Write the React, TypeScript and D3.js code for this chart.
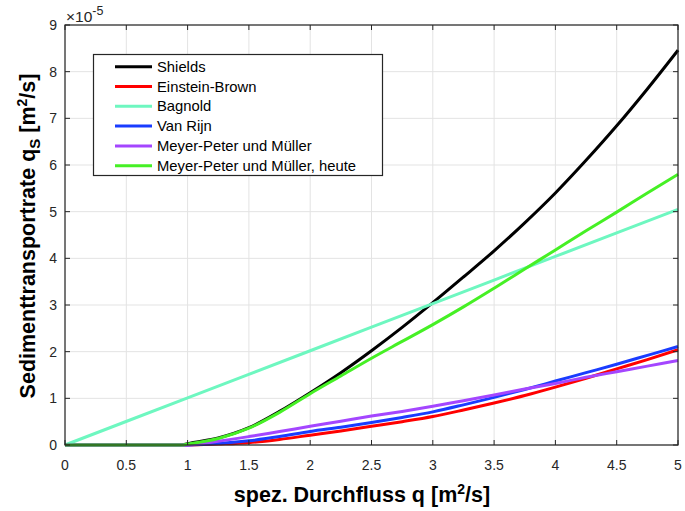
import React from "react";
import * as d3 from "d3";

const qValues = [0, 0.25, 0.5, 0.75, 0.95, 1.0, 1.25, 1.5, 1.75, 2, 2.25, 2.5, 2.75, 3, 3.25, 3.5, 3.75, 4, 4.25, 4.5, 4.75, 5];
const shields = [0, 0, 0, 0, 0, 0.03, 0.15, 0.37, 0.72, 1.12, 1.55, 2.02, 2.52, 3.05, 3.6, 4.16, 4.76, 5.4, 6.1, 6.84, 7.63, 8.46];
const einsteinBrown = [0, 0, 0, 0, 0, 0, 0.02, 0.05, 0.12, 0.21, 0.3, 0.4, 0.5, 0.61, 0.75, 0.9, 1.06, 1.24, 1.43, 1.63, 1.83, 2.04];
const bagnoldQ = [0, 1, 2, 3, 4, 5];
const bagnold = [0, 1.01, 2.02, 3.03, 4.04, 5.05];
const vanRijn = [0, 0, 0, 0, 0, 0, 0.03, 0.09, 0.18, 0.29, 0.38, 0.48, 0.59, 0.71, 0.86, 1.02, 1.19, 1.37, 1.55, 1.73, 1.92, 2.11];
const mpm = [0, 0, 0, 0, 0, 0, 0.08, 0.18, 0.29, 0.4, 0.51, 0.62, 0.72, 0.83, 0.95, 1.07, 1.2, 1.32, 1.45, 1.57, 1.69, 1.81];
const mpmHeute = [0, 0, 0, 0, 0, 0.02, 0.14, 0.36, 0.7, 1.1, 1.48, 1.86, 2.22, 2.58, 2.96, 3.36, 3.77, 4.18, 4.59, 4.99, 5.4, 5.8];

const xTicks = [0, 0.5, 1, 1.5, 2, 2.5, 3, 3.5, 4, 4.5, 5];
const yTicks = [0, 1, 2, 3, 4, 5, 6, 7, 8, 9];

const seriesNames = ["Shields", "Einstein-Brown", "Bagnold", "Van Rijn", "Meyer-Peter und Müller", "Meyer-Peter und Müller, heute"];
const seriesColors = ["#000000", "#ff0000", "#6ef7c0", "#1a3cff", "#a446ff", "#46f025"];

export default function App() {
  const W = 685, H = 511;
  const left = 65, right = 678, top = 25, bottom = 445;
  const x = d3.scaleLinear().domain([0, 5]).range([left, right]);
  const y = d3.scaleLinear().domain([0, 9]).range([bottom, top]);
  const font = "Liberation Sans, Arial, sans-serif";

  const series: { q: number[]; v: number[] }[] = [
    { q: qValues, v: shields },
    { q: qValues, v: einsteinBrown },
    { q: bagnoldQ, v: bagnold },
    { q: qValues, v: vanRijn },
    { q: qValues, v: mpm },
    { q: qValues, v: mpmHeute },
  ];
  const line = d3
    .line<[number, number]>()
    .x((d) => x(d[0]))
    .y((d) => y(d[1]))
    .curve(d3.curveMonotoneX);

  const axisColor = "#262626";
  const gridColor = "#e3e3e3";
  const tickLen = 5;

  const legX = 93.5, legY = 54.5, legW = 289, legH = 121;
  const rowH = 19.8;

  return (
    <svg width={W} height={H} style={{ position: "absolute", left: 0, top: 0, background: "#fff" }}>
      <rect x={0} y={0} width={W} height={H} fill="#fff" />
      {xTicks.map((t) => (
        <line key={"gx" + t} x1={x(t)} x2={x(t)} y1={top} y2={bottom} stroke={gridColor} strokeWidth={1} />
      ))}
      {yTicks.map((t) => (
        <line key={"gy" + t} x1={left} x2={right} y1={y(t)} y2={y(t)} stroke={gridColor} strokeWidth={1} />
      ))}
      <defs>
        <clipPath id="clip">
          <rect x={left - 2} y={top - 2} width={right - left + 4} height={bottom - top + 4} />
        </clipPath>
      </defs>
      <g clipPath="url(#clip)">
        {series.map((s, i) => (
          <path
            key={i}
            d={line(s.q.map((q, j) => [q, s.v[j]] as [number, number])) || ""}
            fill="none"
            stroke={seriesColors[i]}
            strokeWidth={3}
            strokeLinejoin="round"
          />
        ))}
      </g>
      {xTicks.map((t) => (
        <g key={"tx" + t}>
          <line x1={x(t)} x2={x(t)} y1={bottom} y2={bottom - tickLen} stroke={axisColor} strokeWidth={1} />
          <line x1={x(t)} x2={x(t)} y1={top} y2={top + tickLen} stroke={axisColor} strokeWidth={1} />
          <text x={x(t)} y={465} textAnchor="middle" dominantBaseline="central" fontFamily={font} fontSize={14} fill={axisColor}>
            {t}
          </text>
        </g>
      ))}
      {yTicks.map((t) => (
        <g key={"ty" + t}>
          <line x1={left} x2={left + tickLen} y1={y(t)} y2={y(t)} stroke={axisColor} strokeWidth={1} />
          <line x1={right} x2={right - tickLen} y1={y(t)} y2={y(t)} stroke={axisColor} strokeWidth={1} />
          <text x={57} y={y(t)} textAnchor="end" dominantBaseline="central" fontFamily={font} fontSize={14} fill={axisColor}>
            {t}
          </text>
        </g>
      ))}
      <rect x={left} y={top} width={right - left} height={bottom - top} fill="none" stroke={axisColor} strokeWidth={1.2} />
      <text x={66} y={22} fontFamily={font} fontSize={15.5} fill={axisColor}>
        ×10
        <tspan dy={-7} fontSize={12.5}>-5</tspan>
      </text>
      <text x={362} y={502} textAnchor="middle" fontFamily={font} fontSize={21.5} fontWeight="bold" fill="#000">
        spez. Durchfluss q [m
        <tspan dy={-8} fontSize={14}>2</tspan>
        <tspan dy={8}>/s]</tspan>
      </text>
      <text
        transform={`translate(35,236) rotate(-90)`}
        textAnchor="middle"
        fontFamily={font}
        fontSize={21.5}
        fontWeight="bold"
        fill="#000"
      >
        Sedimenttransportrate q
        <tspan dy={5} fontSize={15}>S</tspan>
        <tspan dy={-5}> [m</tspan>
        <tspan dy={-8} fontSize={14}>2</tspan>
        <tspan dy={8}>/s]</tspan>
      </text>
      <rect x={legX} y={legY} width={legW} height={legH} fill="#fff" stroke={axisColor} strokeWidth={1.2} />
      {seriesNames.map((n, i) => {
        const cy = 66.7 + i * rowH;
        return (
          <g key={n}>
            <line x1={115} x2={152} y1={cy} y2={cy} stroke={seriesColors[i]} strokeWidth={3} />
            <text x={157} y={cy} dominantBaseline="central" fontFamily={font} fontSize={14.8} fill="#000">
              {n}
            </text>
          </g>
        );
      })}
    </svg>
  );
}
